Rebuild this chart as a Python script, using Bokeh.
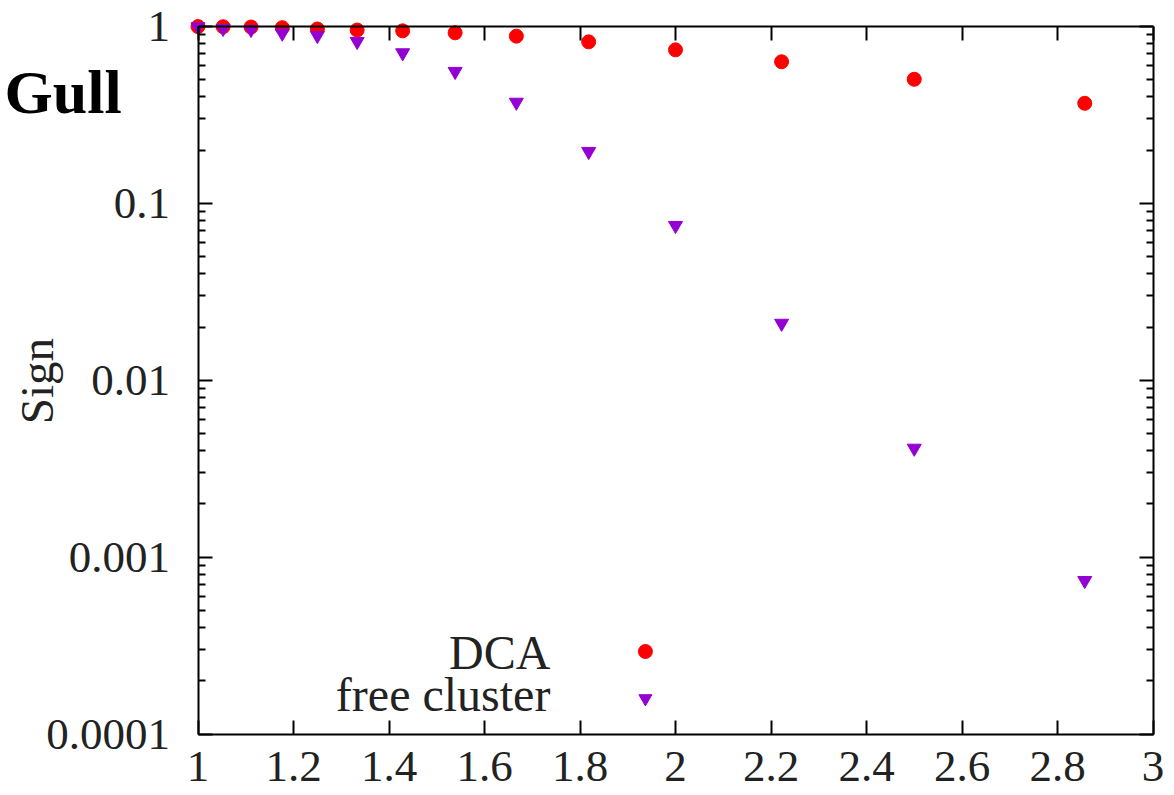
import math
from bokeh.plotting import figure
from bokeh.models import FixedTicker, LinearAxis, LogAxis, Label, Range1d, ColumnDataSource
from bokeh.embed import file_html
from bokeh.resources import INLINE

# ---- data ----
x_vals = [1.0, 1.0526, 1.1111, 1.1765, 1.25, 1.3333, 1.4286, 1.5385, 1.6667,
          1.8182, 2.0, 2.2222, 2.5, 2.8571]
dca = [0.999, 0.997, 0.993, 0.985, 0.968, 0.955, 0.945, 0.921, 0.882,
       0.819, 0.738, 0.632, 0.503, 0.368]
free_cluster = [0.995, 0.975, 0.962, 0.917, 0.889, 0.823, 0.71, 0.557, 0.373,
                0.1965, 0.075, 0.021, 0.00413, 0.000738]

x_ticks = [1, 1.2, 1.4, 1.6, 1.8, 2, 2.2, 2.4, 2.6, 2.8, 3]
x_tick_labels = ["1", "1.2", "1.4", "1.6", "1.8", "2", "2.2", "2.4", "2.6", "2.8", "3"]
y_ticks = [0.0001, 0.001, 0.01, 0.1, 1]
y_tick_labels = ["0.0001", "0.001", "0.01", "0.1", "1"]
series_names = ["DCA", "free cluster"]
title_text = "Gull"
y_label_text = "Sign"

# ---- layout / style ----
W, H = 1174, 795
X_MIN, X_MAX = 1, 3            # axis box limits
Y_MIN, Y_MAX = 0.0001, 1
BOX_L, BOX_R, BOX_T, BOX_B = 197.5, 1152.5, 26.0, 733.6   # pixel edges of the axis box

FONT = "Liberation Serif"
TXT = "#222222"
RED = "#ff0000"
PURPLE = "#9400d3"

# the frame spans the whole canvas; axes are pinned at the box edges
px_per_x = (BOX_R - BOX_L) / (X_MAX - X_MIN)
x_start = X_MIN - BOX_L / px_per_x
x_end = X_MAX + (W - BOX_R) / px_per_x
px_per_dec = (BOX_B - BOX_T) / (math.log10(Y_MAX) - math.log10(Y_MIN))
y_end = 10 ** (math.log10(Y_MAX) + BOX_T / px_per_dec)
y_start = 10 ** (math.log10(Y_MIN) - (H - BOX_B) / px_per_dec)

y_minor = [m * 10.0 ** e for e in range(-4, 0) for m in range(2, 10)]

p = figure(width=W, height=H, y_axis_type="log",
           x_range=Range1d(x_start, x_end), y_range=Range1d(y_start, y_end),
           output_backend="svg", toolbar_location=None,
           min_border=0, min_border_left=0, min_border_right=0,
           min_border_top=0, min_border_bottom=0)
p.background_fill_color = "white"
p.border_fill_color = "white"
p.outline_line_color = None
p.grid.visible = False

xt = FixedTicker(ticks=x_ticks, minor_ticks=[])
yt = FixedTicker(ticks=y_ticks, minor_ticks=y_minor)


def style_axis(ax, show_labels):
    ax.axis_line_color = "black"
    ax.axis_line_width = 2
    ax.major_tick_line_color = "black"
    ax.major_tick_line_width = 2
    ax.minor_tick_line_color = "black"
    ax.minor_tick_line_width = 2
    ax.major_tick_in = 14
    ax.major_tick_out = 0
    ax.minor_tick_in = 7
    ax.minor_tick_out = 0
    ax.major_label_text_font = FONT
    if show_labels:
        ax.major_label_text_color = TXT
        ax.major_label_text_font_size = "45px"
    else:
        ax.major_label_text_color = None
        ax.major_label_text_font_size = "1px"
        ax.major_label_standoff = 0


xa = p.xaxis[0]
xa.ticker = xt
xa.bounds = (X_MIN, X_MAX)
xa.fixed_location = Y_MIN
xa.major_label_overrides = {t: l for t, l in zip(x_ticks, x_tick_labels)}
style_axis(xa, True)
xa.major_label_standoff = 18

ya = p.yaxis[0]
ya.ticker = yt
ya.bounds = (Y_MIN, Y_MAX)
ya.fixed_location = X_MIN
ya.major_label_overrides = {t: l for t, l in zip(y_ticks, y_tick_labels)}
style_axis(ya, True)
ya.major_label_standoff = 28

top = LinearAxis(ticker=xt, bounds=(X_MIN, X_MAX), fixed_location=Y_MAX)
style_axis(top, False)
p.add_layout(top, "above")
right = LogAxis(ticker=yt, bounds=(Y_MIN, Y_MAX), fixed_location=X_MAX)
style_axis(right, False)
p.add_layout(right, "right")

src = ColumnDataSource(dict(x=x_vals, dca=dca, fc=free_cluster))
p.scatter("x", "dca", source=src, marker="circle", size=14,
          fill_color=RED, line_color=RED)
p.scatter("x", "fc", source=src, marker="inverted_triangle", size=14,
          fill_color=PURPLE, line_color=PURPLE)

# ---- legend (gnuplot style: right-aligned text, then symbol) ----
leg_text_x = 1.738
leg_sym_x = 1.937
leg_text_y = [2.89e-4, 1.675e-4]
leg_sym_y = [2.93e-4, 1.59e-4]
for name, yy in zip(series_names, leg_text_y):
    p.add_layout(Label(x=leg_text_x, y=yy, text=name, text_font=FONT,
                       text_font_size="48px", text_color=TXT,
                       text_align="right", text_baseline="middle"))
p.scatter(x=[leg_sym_x], y=[leg_sym_y[0]], marker="circle", size=14,
          fill_color=RED, line_color=RED)
p.scatter(x=[leg_sym_x], y=[leg_sym_y[1]], marker="inverted_triangle", size=13,
          fill_color=PURPLE, line_color=PURPLE)

# ---- title and y label ----
p.add_layout(Label(x=0.595, y=0.429, text=title_text, text_font=FONT,
                   text_font_style="bold", text_font_size="62px",
                   text_color="black", text_align="left", text_baseline="middle"))
p.add_layout(Label(x=0.662, y=0.0099, text=y_label_text, text_font=FONT,
                   text_font_size="47px", text_color=TXT, angle=math.pi / 2,
                   text_align="center", text_baseline="middle"))

open("out.html", "w").write(file_html(p, INLINE))
